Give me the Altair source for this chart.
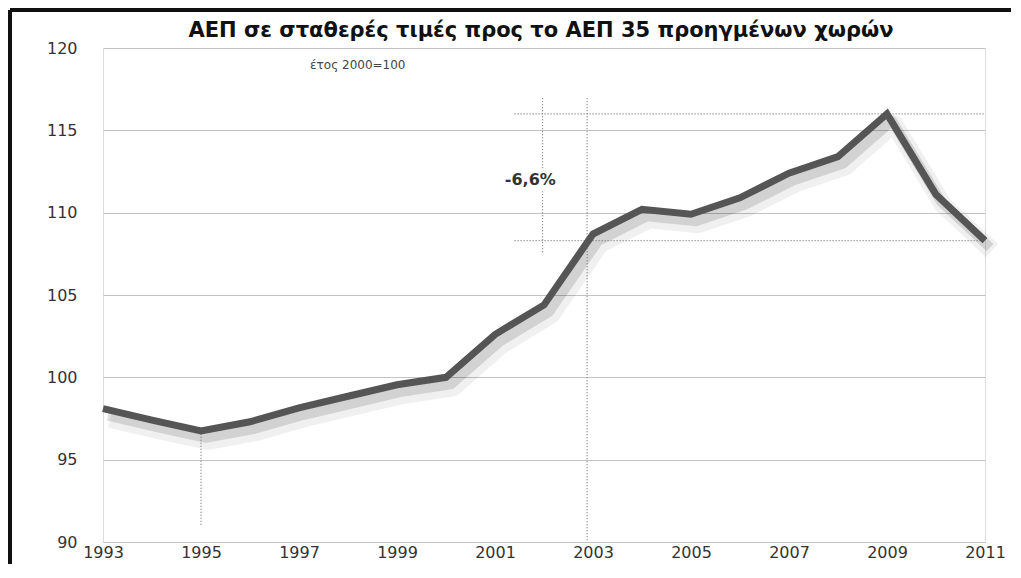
import altair as alt
import pandas as pd

# --- data ---
years = [1993, 1994, 1995, 1996, 1997, 1998, 1999, 2000, 2001, 2002,
         2003, 2004, 2005, 2006, 2007, 2008, 2009, 2010, 2011]
gdp = [98.1, 97.4, 96.75, 97.3, 98.15, 98.85, 99.55, 100.0, 102.6, 104.4,
       108.7, 110.2, 109.9, 110.9, 112.4, 113.4, 116.0, 111.1, 108.3]

x_ticks = [1993, 1995, 1997, 1999, 2001, 2003, 2005, 2007, 2009, 2011]
y_ticks = [90, 95, 100, 105, 110, 115, 120]

title_text = "ΑΕΠ σε σταθερές τιμές προς το ΑΕΠ 35 προηγμένων χωρών"
subtitle_text = "έτος 2000=100"
change_label = "-6,6%"

# dotted guide lines (start x, end x, start y, end y)
guide_x = [2001.4, 2001.4, 2001.97, 2002.88, 1995.0]
guide_x2 = [2011.0, 2011.0, 2001.97, 2002.88, 1995.0]
guide_y = [116.0, 108.3, 116.95, 116.95, 96.75]
guide_y2 = [116.0, 108.3, 107.55, 90.0, 91.0]

FONT = "DejaVu Sans"

df = pd.DataFrame({"year": years, "gdp": gdp})
guides = pd.DataFrame({"x": guide_x, "x2": guide_x2, "y": guide_y, "y2": guide_y2})
label_df = pd.DataFrame({"x": [2001.72], "y": [112.0], "t": [change_label],
                         "bx": [2001.0], "bx2": [2002.45], "by": [112.7], "by2": [111.3]})
sub_df = pd.DataFrame({"x": [1998.2], "y": [118.95], "t": [subtitle_text]})
title_df = pd.DataFrame({"t": [title_text]})

xscale = alt.Scale(domain=[1993, 2011], nice=False, zero=False)
yscale = alt.Scale(domain=[90, 120], nice=False, zero=False)

xenc = alt.X("year:Q", scale=xscale,
             axis=alt.Axis(values=x_ticks, format="d", title=None, grid=False,
                           domain=False, ticks=False, labelPadding=2,
                           labelFont=FONT, labelFontSize=16, labelColor="#333333",
                           labelFlush=False, labelOverlap=False, labelBound=False))
yenc = alt.Y("gdp:Q", scale=yscale,
             axis=alt.Axis(values=y_ticks, title=None, grid=True, gridColor="#c2c2c2",
                           gridWidth=1, domain=False, ticks=False, labelPadding=26,
                           labelFont=FONT, labelFontSize=16, labelColor="#333333"))

base = alt.Chart(df)

shadow2 = base.mark_line(color="#000000", opacity=0.06, strokeWidth=18,
                         strokeJoin="round", xOffset=7, yOffset=10).encode(x=xenc, y=yenc)
shadow1 = base.mark_line(color="#000000", opacity=0.12, strokeWidth=10,
                         strokeJoin="round", xOffset=5, yOffset=7).encode(x=xenc, y=yenc)

guide_layer = alt.Chart(guides).mark_rule(color="#777777", strokeWidth=1.2,
                                          strokeDash=[1, 2]).encode(
    x=alt.X("x:Q", scale=xscale), x2="x2:Q",
    y=alt.Y("y:Q", scale=yscale), y2="y2:Q")

main_line = base.mark_line(color="#555555", strokeWidth=7, strokeJoin="miter",
                           strokeCap="butt").encode(x=xenc, y=yenc)

label_box = alt.Chart(label_df).mark_rect(color="#ffffff").encode(
    x=alt.X("bx:Q", scale=xscale), x2="bx2:Q",
    y=alt.Y("by:Q", scale=yscale), y2="by2:Q")
label_text = alt.Chart(label_df).mark_text(fontSize=16, fontWeight="bold",
                                           color="#333333", font=FONT).encode(
    x=alt.X("x:Q", scale=xscale), y=alt.Y("y:Q", scale=yscale), text="t:N")

sub_text = alt.Chart(sub_df).mark_text(fontSize=12, color="#444444", font=FONT).encode(
    x=alt.X("x:Q", scale=xscale), y=alt.Y("y:Q", scale=yscale), text="t:N")

title_mark = alt.Chart(title_df).mark_text(fontSize=21, fontWeight="bold", color="#111111",
                                           font=FONT, baseline="alphabetic",
                                           align="center").encode(
    x=alt.value(438), y=alt.value(-11), text="t:N")

frame_top = alt.Chart(df).mark_rule(color="#111111", strokeWidth=3).encode(
    x=alt.value(-93), x2=alt.value(920), y=alt.value(-38))
frame_left = alt.Chart(df).mark_rule(color="#111111", strokeWidth=3).encode(
    x=alt.value(-93), y=alt.value(-38), y2=alt.value(530))

chart = alt.layer(
    shadow2, shadow1, guide_layer, main_line, label_box, label_text, sub_text,
    title_mark, frame_top, frame_left
).properties(
    width=882, height=494,
    autosize=alt.AutoSizeParams(type="none"),
    padding={"left": 95, "top": 40, "right": 26, "bottom": 22},
).configure_view(
    fill="#f4f4f4", strokeWidth=0
).configure(background="#ffffff")

chart.save("out.html", embed_options={"renderer": "svg", "actions": False})
